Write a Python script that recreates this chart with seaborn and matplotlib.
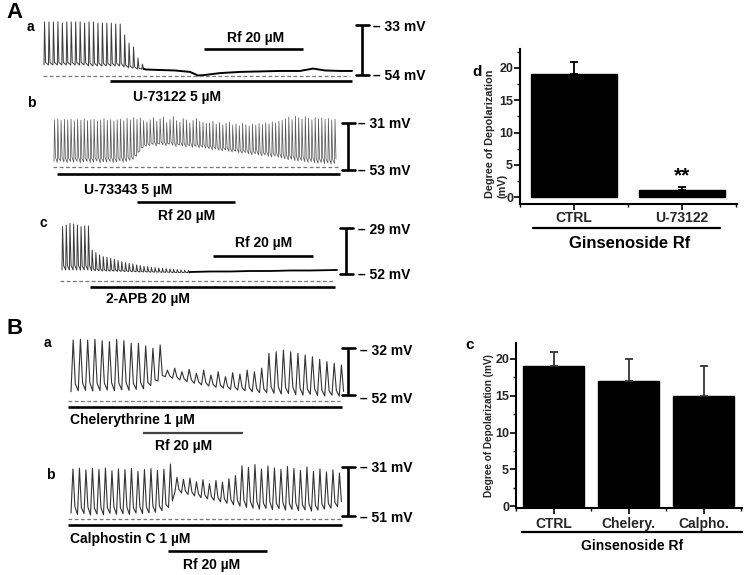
import numpy as np
import pandas as pd
import matplotlib
matplotlib.use("Agg")
import matplotlib.pyplot as plt
import seaborn as sns
from matplotlib.ticker import MultipleLocator

# ---------------- DATA ----------------
# Panel A-a (U-73122): spike peaks / troughs (mV), then flat membrane potential
AA_PEAKS = [-31.7, -31.7, -31.7, -31.7, -32.2, -31.7, -31.7, -31.7, -31.7, -32.2, -31.7, -31.7,
            -32.2, -32.2, -32.2, -32.2, -32.6, -32.6, -37.2, -40.6, -42.2, -46.9, -49.4]
AA_TROUGHS = [-49.8, -49.8, -49.8, -49.8, -49.8, -49.8, -49.8, -49.8, -49.8, -49.8, -50.2, -50.2,
              -50.2, -50.2, -50.2, -50.2, -50.2, -50.2, -50.6, -51.0, -51.1, -51.5, -51.5]
AA_BASE_T = [206, 234, 264, 294, 310, 324, 354, 394, 434, 474, 514, 540, 564, 594, 618]
AA_BASE_V = [-51.7, -51.9, -52.1, -52.7, -54.2, -54.0, -53.2, -52.7, -52.5, -52.3, -52.3, -51.3,
             -52.1, -52.3, -52.3]

# Panel A-b (U-73343)
AB_PEAKS = [-29.5, -29.1, -29.8, -29.3, -29.6, -29.2, -30.0, -29.4, -29.7, -29.1, -29.9, -29.5, -29.3,
            -30.2, -29.6, -29.0, -29.8, -29.4, -30.1, -29.5, -29.2, -29.9, -28.8, -29.6, -28.5,
            -29.3, -28.6, -29.9, -30.5,
            -29.5, -28.4, -30.2, -29.0, -28.2, -30.8, -29.4, -28.0, -29.9, -30.6, -28.9, -29.6, -30.9,
            -29.8, -28.9, -30.3, -30.7, -31.2,
            -31.0, -30.2, -31.6, -30.8, -31.9, -31.2, -30.6, -32.0, -31.4, -32.3, -31.1, -31.8, -32.4,
            -31.5, -32.0, -31.2, -31.7, -30.9, -31.4, -30.5, -31.0, -30.2, -29.8,
            -29.0, -28.2, -29.4, -27.8, -28.6, -29.1, -28.0, -28.8, -29.5, -28.4, -29.0, -28.6, -29.3,
            -28.9, -29.6, -29.2]
AB_TROUGHS = [-49.0, -49.5, -48.8, -49.3, -49.6, -49.0, -49.4, -48.9, -49.7, -49.2, -49.0, -49.5, -49.3,
              -48.8, -49.6, -49.1, -49.4, -49.0, -49.5, -49.2, -48.7, -49.3, -49.0, -48.5, -48.0,
              -46.5, -44.0, -42.5, -41.8,
              -41.5, -41.0, -41.8, -40.8, -41.2, -41.6, -40.9, -41.4, -42.0, -41.3, -41.8, -42.2, -41.6,
              -42.4, -42.0, -42.6, -42.3, -42.8,
              -43.0, -43.4, -43.2, -43.8, -44.0, -43.6, -44.3, -44.6, -44.2, -44.9, -45.2, -44.8, -45.5,
              -45.8, -45.4, -46.0, -46.3, -46.0, -46.6, -46.9, -46.5, -47.1, -47.4,
              -47.8, -48.2, -48.0, -48.6, -48.9, -48.5, -49.1, -49.4, -49.0, -49.6, -49.8, -49.5, -50.0,
              -49.7, -50.2, -49.9]

# Panel A-c (2-APB)
AC_PEAKS = [-28.3, -27.5, -26.7, -27.0, -27.5, -28.3, -28.0, -28.0,
            -40.0, -41.3, -42.5, -43.3, -43.7, -44.2, -44.7, -45.3, -45.8, -46.3, -46.7, -47.0,
            -47.5, -47.8, -48.2, -48.3, -48.7, -48.8, -49.0, -49.2, -49.3, -49.5, -49.7, -49.8,
            -50.0, -50.1, -50.2]
AC_TROUGHS = [-50.0, -50.0, -50.0, -50.0, -50.0, -50.0, -50.0, -50.0,
              -50.3, -50.4, -50.4, -50.5, -50.5, -50.6, -50.6, -50.7, -50.7, -50.8, -50.8, -50.9,
              -50.9, -51.0, -51.0, -51.0, -51.1, -51.1, -51.1, -51.2, -51.2, -51.2, -51.3, -51.3,
              -51.3, -51.3, -51.3]
AC_BASE_T = [260, 300, 340, 380, 420, 460, 500, 554]
AC_BASE_V = [-51.0, -50.75, -50.75, -50.5, -50.5, -50.25, -50.25, -50.0]

# Panel B-a (Chelerythrine)
BA_PEAKS = [-28.6, -28.3, -28.6, -28.3, -28.9, -29.3, -28.3, -28.9, -30.0, -30.0, -31.1, -32.1, -30.7,
            -41.4, -40.6, -42.1, -41.1, -42.8, -41.4, -43.5, -42.1, -44.2, -42.5, -43.1, -41.4, -42.1, -40.6,
            -34.3, -33.6, -32.9, -33.6, -34.3, -35.0, -35.7, -36.8, -37.8, -38.5, -39.2]
BA_TROUGHS = [-50.6, -50.2, -50.0, -50.3, -50.1, -49.9, -50.2, -49.8, -50.0, -49.6, -49.4, -48.0, -46.0,
              -44.2, -44.9, -45.6, -46.3, -47.0, -47.7, -48.2, -48.7, -49.1, -49.6, -49.9, -50.2, -50.6, -51.0,
              -51.0, -51.3, -51.6, -51.4, -51.8, -52.0, -51.7, -52.2, -52.4, -52.1, -52.5]

# Panel B-b (Calphostin C)
BB_PEAKS = [-31.8, -31.5, -32.2, -31.6, -32.0, -31.4, -32.5, -31.8, -32.1, -31.6, -32.8, -32.0, -31.7,
            -32.4, -31.9, -29.8,
            -35.2, -36.0, -35.5, -37.0, -36.2, -37.8, -36.5, -37.2, -35.8, -34.5,
            -30.5, -31.2, -30.0, -31.8, -30.6, -31.4, -32.0, -30.8, -31.6, -32.4, -31.0, -32.8, -31.8,
            -33.0, -32.2, -33.4]
BB_TROUGHS = [-49.8, -50.4, -50.0, -50.6, -50.2, -50.5, -49.9, -50.3, -50.1, -50.4, -49.8, -50.0, -49.7,
              -49.5, -48.8, -47.5,
              -41.0, -41.6, -42.2, -42.8, -43.5, -44.0, -44.6, -45.2, -45.8, -46.4,
              -47.0, -47.5, -47.8, -48.2, -47.9, -48.4, -48.0, -48.6, -48.3, -48.8, -48.5, -49.0, -48.6,
              -48.2, -47.8, -47.2]

# Bar charts
AD_CATS = ["CTRL", "U-73122"]
AD_MEANS = [19.0, 1.1]
AD_ERR = [2.0, 0.4]
BC_CATS = ["CTRL", "Chelery.", "Calpho."]
BC_MEANS = [19.0, 17.0, 15.0]
BC_ERR = [2.0, 3.0, 4.0]

# ---------------- FIGURE ----------------
sns.set_theme(style="white")
plt.rcParams['font.family'] = ['Liberation Sans', 'DejaVu Sans']
plt.rcParams['font.weight'] = 'bold'

W, H = 747, 575
fig = plt.figure(figsize=(W / 100, H / 100), dpi=100)
ov = fig.add_axes([0, 0, 1, 1])
ov.set_xlim(0, W)
ov.set_ylim(H, 0)
ov.axis('off')


def txt(x, y, s, size=10, ha='left', va='center', **kw):
    ov.text(x, y, s, fontsize=size, ha=ha, va=va, fontweight='bold', color='black', **kw)


def trace_axes(L, top, bot, rt_px, rt_mv, rb_px, rb_mv, R=440):
    k = (rb_mv - rt_mv) / (rb_px - rt_px)
    ax = fig.add_axes([L / W, 1 - bot / H, (R - L) / W, (bot - top) / H])
    ax.set_xlim(0, (R - L) * 2)
    ax.set_ylim(rt_mv + (bot - rt_px) * k, rt_mv + (top - rt_px) * k)
    ax.axis('off')
    ax.patch.set_alpha(0)
    return ax


def spike_train(t0, period, peaks, troughs, rise, decay, frac):
    ts, vs = [], []
    for i, (p, b) in enumerate(zip(peaks, troughs)):
        t = t0 + i * period
        ts += [t, t + rise * period, t + decay * period]
        vs += [b, p, b + frac * (p - b)]
    return ts, vs


def draw_line(ax, ts, vs, color, lw):
    sns.lineplot(x=ts, y=vs, sort=False, estimator=None, ax=ax, color=color, linewidth=lw)


def scale_bar(ax, x, v_top, v_bot, cap=12):
    ax.plot([x, x], [v_bot, v_top], color='black', lw=1.9, solid_capstyle='butt')
    ax.plot([x - cap, x + cap], [v_top, v_top], color='black', lw=1.9)
    ax.plot([x - cap, x + cap], [v_bot, v_bot], color='black', lw=1.9)


def dashed(ax, t0, t1, v):
    ax.plot([t0, t1], [v, v], color='#777777', lw=0.9, dashes=(3, 2))


def drug(ax, t0, t1, v, color='black', lw=1.9):
    ax.plot([t0, t1], [v, v], color=color, lw=lw, solid_capstyle='butt')


# ---- A a ----
ax = trace_axes(43, 15, 105, 25, -33, 75, -54)
ts, vs = spike_train(2, 8.9, AA_PEAKS, AA_TROUGHS, 0.12, 0.35, 0.06)
draw_line(ax, ts, vs, '#3a3a3a', 0.7)
draw_line(ax, [ts[-1]] + AA_BASE_T, [vs[-1]] + AA_BASE_V, 'black', 1.4)
dashed(ax, 0, 614, -54.4)
drug(ax, 134, 618, -56.5)
drug(ax, 322, 520, -43.1)
scale_bar(ax, 638, -33, -54, 13)

# ---- A b ----
ax = trace_axes(53, 100, 225, 123, -31, 170, -53)
ts, vs = spike_train(2, 6.6, AB_PEAKS, AB_TROUGHS, 0.15, 0.45, 0.1)
draw_line(ax, ts, vs, '#5a5a5a', 0.55)
dashed(ax, 0, 574, -51.6)
drug(ax, 8, 574, -54.9)
drug(ax, 168, 364, -68.0)
scale_bar(ax, 590, -31, -53, 13)

# ---- A c ----
ax = trace_axes(60, 215, 305, 228, -29, 274, -52)
ts, vs = spike_train(4, 7.4, AC_PEAKS, AC_TROUGHS, 0.15, 0.45, 0.1)
draw_line(ax, ts, vs, '#3a3a3a', 0.7)
draw_line(ax, [ts[-1]] + AC_BASE_T, [vs[-1]] + AC_BASE_V, 'black', 1.3)
dashed(ax, 0, 550, -55.5)
drug(ax, 60, 550, -58.5)
drug(ax, 306, 506, -43.0)
scale_bar(ax, 572, -29, -52, 13)

# ---- B a ----
ax = trace_axes(68, 330, 455, 348, -32, 395, -52)
ts, vs = spike_train(6, 14.5, BA_PEAKS, BA_TROUGHS, 0.3, 0.6, 0.15)
draw_line(ax, ts, vs, '#333333', 0.8)
dashed(ax, 0, 544, -54.6)
drug(ax, 0, 548, -57.1)
drug(ax, 150, 350, -68.2, color='#444444', lw=1.6)
scale_bar(ax, 560, -32, -52, 13)

# ---- B b ----
ax = trace_axes(68, 455, 575, 467, -31, 516, -51)
ts, vs = spike_train(6, 13.0, BB_PEAKS, BB_TROUGHS, 0.3, 0.6, 0.15)
draw_line(ax, ts, vs, '#333333', 0.8)
dashed(ax, 0, 548, -52.2)
drug(ax, 0, 548, -54.7)
drug(ax, 200, 398, -65.3)
scale_bar(ax, 560, -31, -51, 13)

# ---- texts for traces ----
txt(6, 12, "A", size=16)
txt(6, 328, "B", size=16)
txt(27, 27, "a", size=10)
txt(27, 103, "b", size=10)
txt(40, 223, "c", size=10)
txt(44, 343, "a", size=10)
txt(46, 475, "b", size=10)

txt(256, 38, "Rf 20 \u00b5M", ha='center')
txt(177, 97, "U-73122 5 \u00b5M", ha='center')
txt(373, 27, "\u2013 33 mV")
txt(373, 76, "\u2013 54 mV")

txt(128, 190, "U-73343 5 \u00b5M", ha='center')
txt(187, 216, "Rf 20 \u00b5M", ha='center')
txt(358, 124, "\u2013 31 mV")
txt(358, 171, "\u2013 53 mV")

txt(264, 243, "Rf 20 \u00b5M", ha='center')
txt(148, 299, "2-APB 20 \u00b5M", ha='center')
txt(358, 230, "\u2013 29 mV")
txt(358, 275, "\u2013 52 mV")

txt(70, 420, "Chelerythrine 1 \u00b5M")
txt(184, 446, "Rf 20 \u00b5M", ha='center')
txt(360, 351, "\u2013 32 mV")
txt(360, 399, "\u2013 52 mV")

txt(70, 539, "Calphostin C 1 \u00b5M")
txt(212, 565, "Rf 20 \u00b5M", ha='center')
txt(360, 468, "\u2013 31 mV")
txt(360, 518, "\u2013 51 mV")


# ---------------- BAR CHARTS ----------------
def bar_panel(left, right, top, bot, cats, means, errs, ylim, width, ecolor, xpad):
    ax = fig.add_axes([left / W, 1 - bot / H, (right - left) / W, (bot - top) / H])
    df = pd.DataFrame({"cond": cats, "val": means})
    sns.barplot(data=df, x="cond", y="val", order=cats, color='black', edgecolor='black',
                width=width, errorbar=None, ax=ax, saturation=1)
    x = np.arange(len(cats))
    ax.errorbar(x, means, yerr=[np.zeros(len(errs)), errs], fmt='none', ecolor=ecolor,
                elinewidth=1.3, capsize=3, capthick=1.3)
    ax.set_xlim(-0.5, len(cats) - 0.5 + 0.01)
    ax.set_ylim(*ylim)
    ax.patch.set_alpha(0)
    for s in ['top', 'right']:
        ax.spines[s].set_visible(False)
    for s in ['left', 'bottom']:
        ax.spines[s].set_color('black')
        ax.spines[s].set_linewidth(1.5)
    ax.yaxis.set_major_locator(MultipleLocator(5))
    ax.yaxis.set_minor_locator(MultipleLocator(2.5))
    ax.set_xticks(x)
    ax.set_xticks(np.arange(len(cats) + 1) - 0.5, minor=True)
    ax.tick_params(axis='both', which='major', direction='out', length=4, width=1.2,
                   color='black', left=True, bottom=True)
    ax.tick_params(axis='both', which='minor', direction='out', length=2.5, width=1.0,
                   color='black', left=True, bottom=True)
    ax.tick_params(axis='y', labelsize=9, pad=1)
    ax.tick_params(axis='x', labelsize=10, pad=xpad)
    for lab in ax.get_yticklabels() + ax.get_xticklabels():
        lab.set_fontweight('bold')
    ax.set_xlabel("")
    ax.set_ylabel("")
    return ax


bar_panel(520, 737, 48.6, 203.5, AD_CATS, AD_MEANS, AD_ERR, (-1, 23), 0.8, 'black', 1.5)
bar_panel(516, 742, 342.8, 507.5, BC_CATS, BC_MEANS, BC_ERR, (-0.2, 22.2), 0.81, '#333333', 2.5)

# y-axis titles
ov.text(490, 198, "Degree of Depolarization", rotation=90, ha='center', va='bottom',
        fontsize=7.8, fontweight='bold')
ov.text(502, 198, "(mV)", rotation=90, ha='center', va='bottom',
        fontsize=7.8, fontweight='bold')
ov.text(489, 426, "Degree of Depolarization (mV)", rotation=90, ha='center', va='center',
        fontsize=7.2, fontweight='bold')

txt(472, 72, "d", size=11)
txt(682, 176, "**", size=15, ha='center')
ov.plot([533, 720], [228, 228], color='black', lw=1.6)
txt(630, 243, "Ginsenoside Rf", size=12, ha='center')

txt(470, 345, "c", size=11, ha='center')
ov.plot([522, 742], [532, 532], color='black', lw=1.6)
txt(632, 546, "Ginsenoside Rf", size=10, ha='center')

fig.savefig("out.png", dpi=100)
